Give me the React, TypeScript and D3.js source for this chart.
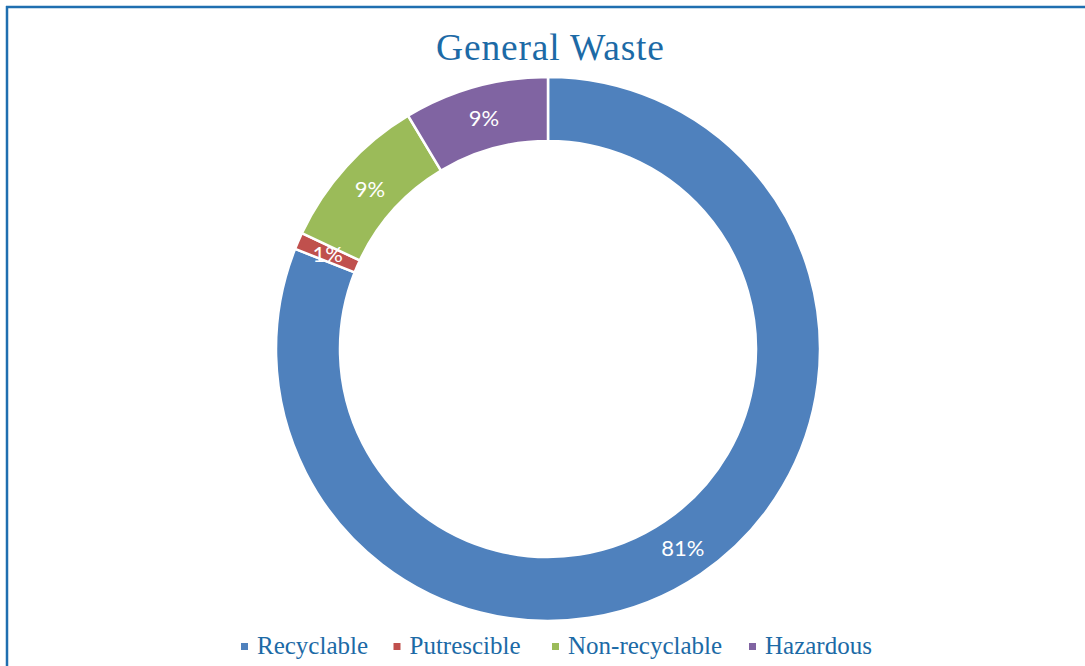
import React from "react";
import * as d3 from "d3";

const categories = ["Recyclable", "Putrescible", "Non-recyclable", "Hazardous"];
const values = [81, 1, 9.4, 8.6];
const colors = ["#4F81BD", "#C0504D", "#9BBB59", "#8064A2"];
const title = "General Waste";

const W = 1085;
const H = 666;

export default function App() {
  const cx = 548;
  const cy = 349;
  const outerR = 272;
  const innerR = 208;
  const total = d3.sum(values);

  const pie = d3.pie<number>().sort(null).value((d) => d)(values);
  const arc = d3.arc<d3.PieArcDatum<number>>().innerRadius(innerR).outerRadius(outerR);
  const labelArc = d3.arc<d3.PieArcDatum<number>>().innerRadius(240).outerRadius(240);

  const legendX = [244.5, 397, 555.5, 752.5];
  const textCol = "#1C6AA6";

  return (
    <div style={{ position: "fixed", left: 0, top: 0 }}>
      <svg width={W} height={H} style={{ display: "block", background: "#fff" }}>
        <rect x={0} y={0} width={W} height={H} fill="#fff" />
        <line x1={6} y1={7} x2={W} y2={7} stroke="#1F6FB0" strokeWidth={2.5} />
        <line x1={7} y1={6} x2={7} y2={H} stroke="#1F6FB0" strokeWidth={2.5} />
        <text x={550} y={60} textAnchor="middle" fontFamily="'Liberation Serif', serif" fontSize={37.5}
          textLength={228} lengthAdjust="spacing" fill={textCol}>
          {title}
        </text>
        <g transform={`translate(${cx},${cy})`}>
          {pie.map((p, i) => (
            <path key={categories[i]} d={arc(p) || ""} fill={colors[i]} stroke="#fff" strokeWidth={2.5} />
          ))}
          {pie.map((p, i) => {
            const [lx, ly] = labelArc.centroid(p);
            return (
              <text key={"l" + i} x={lx} y={ly} textAnchor="middle" dominantBaseline="central"
                fontFamily="Lato, sans-serif" fontSize={22} fill="#fff">
                {`${Math.round((values[i] / total) * 100)}%`}
              </text>
            );
          })}
        </g>
        {categories.map((c, i) => (
          <g key={c} transform={`translate(${legendX[i]},646.5)`}>
            <rect x={-3.5} y={-3.5} width={7} height={7} fill={colors[i]} />
            <text x={12.5} y={7.5} fontFamily="'Liberation Serif', serif" fontSize={25} fill={textCol}>
              {c}
            </text>
          </g>
        ))}
      </svg>
    </div>
  );
}
